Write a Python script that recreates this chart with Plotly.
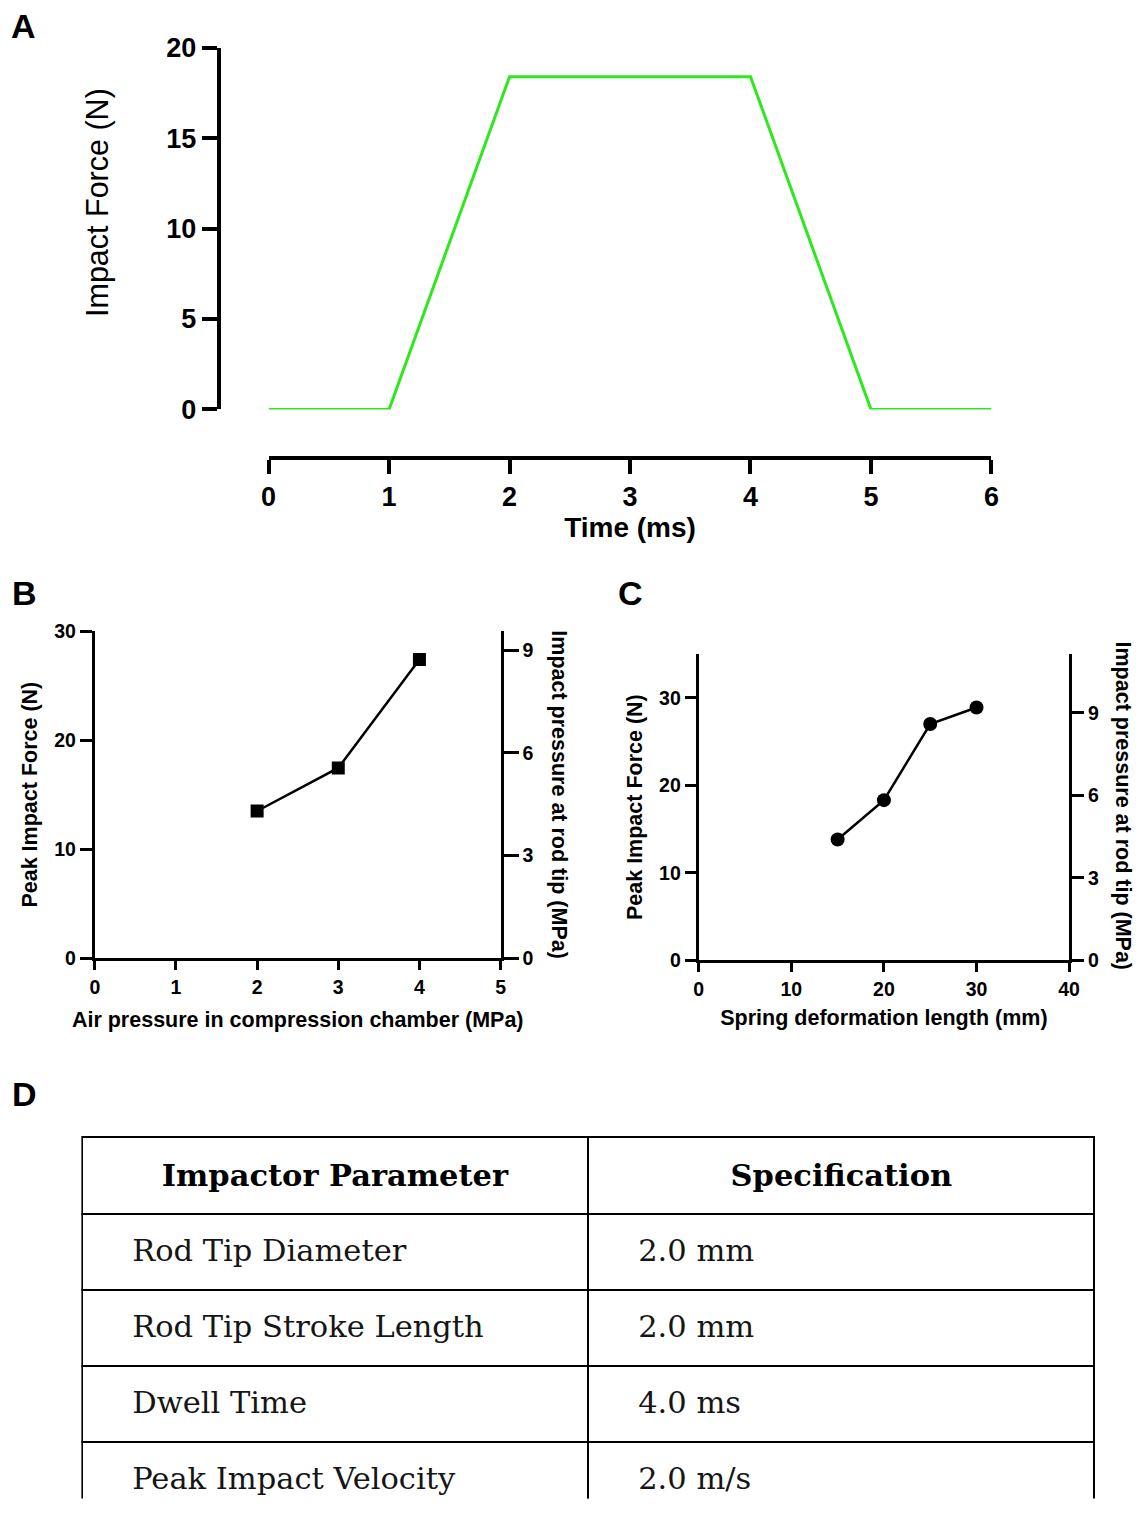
import math
import plotly.graph_objects as go

W, H = 1142, 1514

# ---------------- data ----------------
# Panel A: impact force profile
time_ms = [0, 1, 2, 4, 5, 6]
impact_force_n = [0, 0, 18.4, 18.4, 0, 0]
a_xticks = [0, 1, 2, 3, 4, 5, 6]
a_yticks = [0, 5, 10, 15, 20]

# Panel B: peak force vs air pressure
air_pressure_mpa = [2, 3, 4]
peak_force_b = [13.5, 17.45, 27.4]
b_xticks = [0, 1, 2, 3, 4, 5]
b_yticks = [0, 10, 20, 30]
b_y2ticks = [0, 3, 6, 9]

# Panel C: peak force vs spring deformation
spring_len_mm = [15, 20, 25, 30]
peak_force_c = [13.8, 18.3, 27.0, 28.9]
c_xticks = [0, 10, 20, 30, 40]
c_yticks = [0, 10, 20, 30]
c_y2ticks = [0, 3, 6, 9]

# Panel D: table
table_header = ["Impactor Parameter", "Specification"]
table_params = ["Rod Tip Diameter", "Rod Tip Stroke Length", "Dwell Time", "Peak Impact Velocity"]
table_specs = ["2.0 mm", "2.0 mm", "4.0 ms", "2.0 m/s"]

ROD_TIP_AREA = math.pi  # mm^2 for a 2.0 mm tip -> N / mm^2 = MPa


# ---------------- layout helpers (target pixel -> paper fraction) ----------------
SX, OX = 0.9876, 5.3
SY, OY = 0.9835, 11.7


def fx(x):
    return (x - OX) / SX


def fy(y):
    return (y - OY) / SY


def px_x(x):
    return fx(x) / W


def px_y(y):
    return 1 - fy(y) / H


SANS = "Liberation Sans, Arial, sans-serif"
SERIF = "DejaVu Serif, serif"

fig = go.Figure()

# Panel A trace
fig.add_trace(go.Scatter(x=time_ms, y=impact_force_n, mode="lines",
                         line=dict(color="#2ee81e", width=3),
                         xaxis="x", yaxis="y", showlegend=False))
# Panel B trace
fig.add_trace(go.Scatter(x=air_pressure_mpa, y=peak_force_b, mode="lines+markers",
                         line=dict(color="black", width=2.5),
                         marker=dict(symbol="square", size=13, color="black"),
                         xaxis="x2", yaxis="y2", showlegend=False))
# Panel C trace
fig.add_trace(go.Scatter(x=spring_len_mm, y=peak_force_c, mode="lines+markers",
                         line=dict(color="black", width=2.5),
                         marker=dict(symbol="circle", size=14, color="black"),
                         xaxis="x3", yaxis="y4", showlegend=False))
# empty traces binding the secondary (pressure) axes
fig.add_trace(go.Scatter(x=[], y=[], xaxis="x2", yaxis="y3", showlegend=False))
fig.add_trace(go.Scatter(x=[], y=[], xaxis="x3", yaxis="y5", showlegend=False))

# Panel D table: grid layer + text layer (text centred vertically in the rows)
TABLE_TOP, TABLE_LEFT, TABLE_RIGHT = 1137, 80, 1097
HEADER_H, ROW_H = 77, 76
HEADER_SHIFT, ROW_SHIFT = 13, 17
pad = "\u00a0" * 4 + "\u200a"

fig.add_trace(go.Table(
    domain=dict(x=[px_x(TABLE_LEFT), px_x(TABLE_RIGHT)], y=[0, px_y(TABLE_TOP)]),
    columnwidth=[1, 1],
    header=dict(values=["" for _ in table_header], height=HEADER_H,
                fill_color="white", line=dict(color="black", width=2),
                font=dict(family=SERIF, size=12)),
    cells=dict(values=[["" for _ in table_params], ["" for _ in table_specs]], height=ROW_H,
               fill_color="white", line=dict(color="black", width=2),
               font=dict(family=SERIF, size=12)),
))
fig.add_trace(go.Table(
    domain=dict(x=[px_x(TABLE_LEFT), px_x(TABLE_RIGHT)], y=[0, px_y(TABLE_TOP) - HEADER_SHIFT / H]),
    columnwidth=[1, 1],
    header=dict(values=["<b>%s</b>" % h for h in table_header],
                align="center", height=HEADER_H + ROW_SHIFT - HEADER_SHIFT,
                font=dict(family=SERIF, size=30.5, color="black"),
                fill_color="rgba(0,0,0,0)", line=dict(color="rgba(0,0,0,0)", width=0)),
    cells=dict(values=[[pad + p for p in table_params], [pad + s for s in table_specs]],
               align="left", height=ROW_H,
               font=dict(family=SERIF, size=30.5, color="#151515"),
               fill_color="rgba(0,0,0,0)", line=dict(color="rgba(0,0,0,0)", width=0)),
))

axis_common = dict(showgrid=False, zeroline=False, showline=True, linecolor="black",
                   ticks="outside", tickcolor="black", mirror=False, fixedrange=True)

TICK_A = dict(size=27, family=SANS, weight="bold", color="black")
TICK_BC = dict(size=19.5, family=SANS, weight="bold", color="black")
TITLE_BC = dict(size=21.5, family=SANS, color="black")

layout = dict(
    width=W, height=H, margin=dict(l=0, r=0, t=0, b=0),
    paper_bgcolor="white", plot_bgcolor="white",
    font=dict(family=SANS, color="black"),
    showlegend=False,
    # Panel A
    xaxis=dict(axis_common, domain=[px_x(267), px_x(993)], range=[0, 6],
               anchor="free", position=px_y(456),
               tickvals=a_xticks, ticklen=14, tickwidth=4, linewidth=4,
               tickfont=TICK_A,
               title=dict(text="<b>Time (ms)</b>", font=dict(size=28, family=SANS), standoff=3)),
    yaxis=dict(axis_common, domain=[px_y(407.5), px_y(44.5)], range=[0, 20],
               anchor="free", position=px_x(217),
               tickvals=a_yticks, ticklen=15, tickwidth=4, linewidth=4,
               tickfont=TICK_A),
    # Panel B
    xaxis2=dict(axis_common, domain=[px_x(92.5), px_x(500)], range=[0, 5], anchor="y2",
                tickvals=b_xticks, ticklen=9, tickwidth=3, linewidth=3,
                tickfont=TICK_BC,
                title=dict(text="<b>Air pressure in compression chamber (MPa)</b>",
                           font=TITLE_BC, standoff=16)),
    yaxis2=dict(axis_common, domain=[px_y(958), px_y(630)], range=[0, 30], anchor="x2",
                tickvals=b_yticks, ticklen=12, tickwidth=3, linewidth=3,
                tickfont=TICK_BC,
                title=dict(text="<b>Peak Impact Force (N)</b>", font=TITLE_BC, standoff=11)),
    yaxis3=dict(axis_common, overlaying="y2", side="right", anchor="x2",
                range=[0, 30 / ROD_TIP_AREA], tickvals=b_y2ticks,
                ticklen=15, tickwidth=3, linewidth=3,
                tickfont=TICK_BC),
    # Panel C
    xaxis3=dict(axis_common, domain=[px_x(699), px_x(1071)], range=[0, 40], anchor="y4",
                tickvals=c_xticks, ticklen=9, tickwidth=3, linewidth=3,
                tickfont=TICK_BC,
                title=dict(text="<b>Spring deformation length (mm)</b>",
                           font=TITLE_BC, standoff=12)),
    yaxis4=dict(axis_common, domain=[px_y(960), px_y(653)], range=[0, 35], anchor="x3",
                tickvals=c_yticks, ticklen=11, tickwidth=3, linewidth=3,
                tickfont=TICK_BC,
                title=dict(text="<b>Peak Impact Force (N)</b>", font=TITLE_BC, standoff=11)),
    yaxis5=dict(axis_common, overlaying="y4", side="right", anchor="x3",
                range=[0, 35 / ROD_TIP_AREA], tickvals=c_y2ticks,
                ticklen=12, tickwidth=3, linewidth=3,
                tickfont=TICK_BC),
)
fig.update_layout(**layout)

LETTER = dict(size=34, family=SANS, color="black")
annotations = [
    # panel letters
    dict(text="<b>A</b>", x=px_x(6.5), y=1 - 11.5 / H, xanchor="left", yanchor="middle", font=LETTER),
    dict(text="<b>B</b>", x=px_x(7.5), y=px_y(591.5), xanchor="left", yanchor="middle", font=LETTER),
    dict(text="<b>C</b>", x=px_x(615.5), y=px_y(591.5), xanchor="left", yanchor="middle", font=LETTER),
    dict(text="<b>D</b>", x=px_x(7.5), y=px_y(1094.5), xanchor="left", yanchor="middle", font=LETTER),
    # Panel A y title
    dict(text="Impact Force (N)", x=px_x(95), y=px_y(200), textangle=-90,
         xanchor="center", yanchor="middle", font=dict(size=30.5, family=SANS)),
    # right-side (pressure) titles
    dict(text="<b>Impact pressure at rod tip (MPa)</b>", x=px_x(559), y=px_y(794), textangle=90,
         xanchor="center", yanchor="middle", font=TITLE_BC),
    dict(text="<b>Impact pressure at rod tip (MPa)</b>", x=1134 / W, y=px_y(805), textangle=90,
         xanchor="center", yanchor="middle", font=TITLE_BC),
]
for a in annotations:
    a.update(xref="paper", yref="paper", showarrow=False)
fig.update_layout(annotations=annotations)

fig.write_html("out.html", config={"displayModeBar": False, "staticPlot": True},
               post_script="document.body.style.margin='0';document.body.style.overflow='hidden';")
